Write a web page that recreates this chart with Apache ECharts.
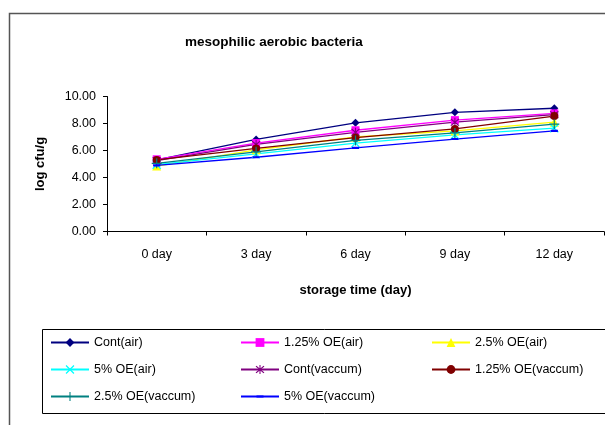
<!DOCTYPE html>
<html><head><meta charset="utf-8">
<script src="https://cdn.jsdelivr.net/npm/echarts@6/dist/echarts.min.js"></script>
<style>html,body{margin:0;padding:0;background:#fff}#c{width:605px;height:425px}</style>
</head><body><div id="c"></div>
<script>
var categories = ['0 day', '3 day', '6 day', '9 day', '12 day'];
var seriesNames = ['Cont(air)', '1.25% OE(air)', '2.5% OE(air)', '5% OE(air)', 'Cont(vaccum)', '1.25% OE(vaccum)', '2.5% OE(vaccum)', '5% OE(vaccum)'];
var contAir = [5.30, 6.82, 8.05, 8.83, 9.13];
var oe125Air = [5.35, 6.55, 7.50, 8.25, 8.75];
var oe25Air = [4.85, 6.05, 7.00, 7.45, 8.10];
var oe5Air = [4.95, 5.75, 6.55, 7.15, 7.65];
var contVac = [5.25, 6.45, 7.35, 8.10, 8.65];
var oe125Vac = [5.30, 6.15, 6.95, 7.60, 8.55];
var oe25Vac = [5.05, 5.90, 6.75, 7.30, 7.95];
var oe5Vac = [4.90, 5.50, 6.20, 6.85, 7.45];
var yTicks = [0, 2, 4, 6, 8, 10];

var values = [contAir, oe125Air, oe25Air, oe5Air, contVac, oe125Vac, oe25Vac, oe5Vac];
var colors = ['#000080', '#FF00FF', '#FFFF00', '#00FFFF', '#800080', '#800000', '#008080', '#0000FF'];
var symX = 'path://M1,0L5,4L9,0L10,1L6,5L10,9L9,10L5,6L1,10L0,9L4,5L0,1Z';
var symPlus = 'path://M4.4,0H5.6V4.4H10V5.6H5.6V10H4.4V5.6H0V4.4H4.4Z';
var symStar = 'path://M1,0L5,4L9,0L10,1L6,5L10,9L9,10L5,6L1,10L0,9L4,5L0,1Z M4.4,-1H5.6V11H4.4Z';
var symDash = 'path://M0,0L0,0ZM1,3.8H9V6.2H1ZM10,10L10,10Z';
var symbols = ['diamond', 'rect', 'triangle', symX, symStar, 'circle', symPlus, symDash];
var sizes = [8, 8, 9, 9, 9, 8, 10, 9];

var series = seriesNames.map(function (n, i) {
  return {
    name: n, type: 'line', data: values[i], symbol: symbols[i], symbolSize: sizes[i],
    showAllSymbol: true, animation: false,
    lineStyle: { color: colors[i], width: 1.3 },
    itemStyle: { color: colors[i] }
  };
});

function legendCol(names, left) {
  return {
    data: names, orient: 'vertical', left: left, top: 331, itemGap: 14,
    itemWidth: 38, itemHeight: 11,
    textStyle: { fontFamily: 'Liberation Sans', fontSize: 12.5, color: '#000' }
  };
}

var chart = echarts.init(document.getElementById('c'), null, { renderer: 'canvas' });
chart.setOption({
  animation: false,
  backgroundColor: '#fff',
  title: {
    text: 'mesophilic aerobic bacteria', left: 180, top: 30,
    textStyle: { fontFamily: 'Liberation Sans', fontSize: 13.5, fontWeight: 'bold', color: '#000' }
  },
  grid: { left: 107, right: 1, top: 96.5, bottom: 193.5, containLabel: false },
  xAxis: {
    type: 'category', data: categories, boundaryGap: true,
    name: 'storage time (day)', nameLocation: 'middle', nameGap: 52,
    nameTextStyle: { fontFamily: 'Liberation Sans', fontSize: 13, fontWeight: 'bold', color: '#000' },
    axisLine: { lineStyle: { color: '#000', width: 1 } },
    axisTick: { show: true, inside: false, length: 4, lineStyle: { color: '#000' } },
    axisLabel: { fontFamily: 'Liberation Sans', fontSize: 12.5, color: '#000', margin: 17 },
    splitLine: { show: false }
  },
  yAxis: {
    type: 'value', min: yTicks[0], max: yTicks[yTicks.length - 1], interval: 2,
    name: 'log cfu/g', nameLocation: 'middle', nameGap: 60, nameRotate: 90,
    nameTextStyle: { fontFamily: 'Liberation Sans', fontSize: 13, fontWeight: 'bold', color: '#000' },
    axisLine: { show: true, lineStyle: { color: '#000', width: 1 } },
    axisTick: { show: true, inside: false, length: 4, lineStyle: { color: '#000' } },
    axisLabel: { fontFamily: 'Liberation Sans', fontSize: 12.5, color: '#000', margin: 11,
      formatter: function (v) { return v.toFixed(2); } },
    splitLine: { show: false }
  },
  legend: [
    legendCol([seriesNames[0], seriesNames[3], seriesNames[6]], 45),
    legendCol([seriesNames[1], seriesNames[4], seriesNames[7]], 235),
    legendCol([seriesNames[2], seriesNames[5]], 426)
  ],
  graphic: [
    { type: 'rect', shape: { x: 9.5, y: 13.5, width: 620, height: 420 }, style: { fill: 'none', stroke: '#555', lineWidth: 1.5 }, silent: true, z: -1 },
    { type: 'rect', shape: { x: 42.5, y: 329.5, width: 580, height: 84 }, style: { fill: 'none', stroke: '#000', lineWidth: 1 }, silent: true, z: -1 }
  ],
  series: series
});
</script></body></html>
